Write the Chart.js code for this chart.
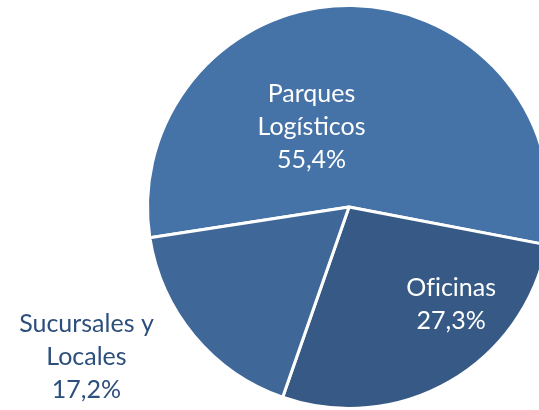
<!DOCTYPE html>
<html>
<head>
<meta charset="utf-8">
<script src="https://cdn.jsdelivr.net/npm/chart.js@4"></script>
<style>
    html, body { margin: 0; padding: 0; background: #fff; overflow: hidden; }
    #wrap { position: relative; width: 560px; height: 410px; }
</style>
</head>
<body>
<div id="wrap"><canvas id="pie-chart" width="560" height="410"></canvas></div>
<script>
// Distribución por tipo de activo
const categories = ['Parques Logísticos', 'Oficinas', 'Sucursales y Locales'];
const labelLines = [['Parques', 'Logísticos'], ['Of\u200Cicinas'], ['Sucursales y', 'Locales']];
const shares = [55.4, 27.3, 17.2];

const sliceColors = ['#4573a7', '#365a85', '#3f6899'];
// where each label sits: angle clockwise from 12 o'clock, distance as a fraction of the radius
const labelPlacement = [
    { angle: 335, dist: 0.44, color: '#ffffff' },
    { angle: 133.6, dist: 0.70, color: '#ffffff' },
    { angle: 240.3, dist: 1.50, color: '#2d4f7c' }
];

const fmtPct = v => v.toFixed(1).replace('.', ',') + '%';

const sliceLabels = {
    id: 'sliceLabels',
    afterDatasetsDraw(chart) {
        const { ctx } = chart;
        const arcs = chart.getDatasetMeta(0).data;
        ctx.save();
        ctx.font = '25px Lato';
        ctx.textAlign = 'center';
        ctx.textBaseline = 'middle';
        arcs.forEach((arc, i) => {
            const p = labelPlacement[i];
            const a = p.angle * Math.PI / 180;
            const r = arc.outerRadius * p.dist;
            const cx = arc.x + r * Math.sin(a);
            const cy = arc.y - r * Math.cos(a);
            const lines = labelLines[i].concat(fmtPct(shares[i]));
            const lh = 33;
            const top = cy - (lines.length - 1) * lh / 2;
            ctx.fillStyle = p.color;
            lines.forEach((t, j) => ctx.fillText(t, cx, top + j * lh));
        });
        ctx.restore();
    }
};

new Chart(document.getElementById('pie-chart'), {
    type: 'pie',
    data: {
        labels: categories,
        datasets: [{
            data: shares,
            backgroundColor: sliceColors,
            borderColor: '#ffffff',
            borderWidth: 3
        }]
    },
    options: {
        responsive: false,
        animation: false,
        rotation: -98.8,
        layout: { padding: { left: 146, right: 8, top: 4, bottom: 0 } },
        plugins: {
            legend: { display: false },
            tooltip: { enabled: false }
        }
    },
    plugins: [sliceLabels]
});
</script>
</body>
</html>
